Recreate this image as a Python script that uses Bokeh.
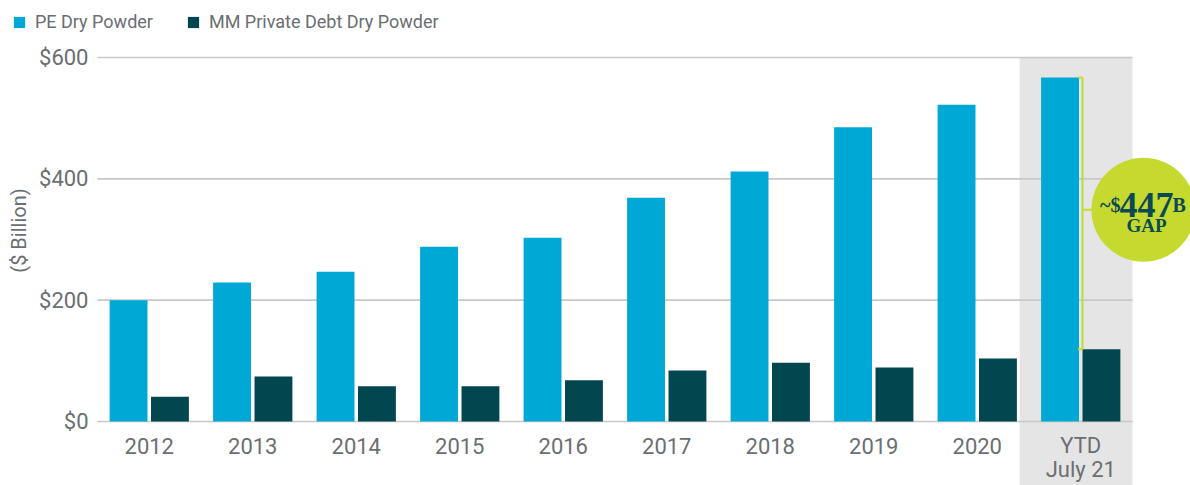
import math
import numpy as np
from bokeh.plotting import figure
from bokeh.models import (Range1d, FixedTicker, NumeralTickFormatter, Label, ColumnDataSource,
                          Legend, LegendItem)
from bokeh.core.properties import value
from bokeh.embed import file_html
from bokeh.resources import INLINE

# ---- data ----
categories = ["2012", "2013", "2014", "2015", "2016", "2017", "2018", "2019", "2020", "YTD\nJuly 21"]
pe_dry_powder = [200, 229, 247, 288, 303, 369, 412, 485, 522, 567]
mm_private_debt = [41, 74, 58, 58, 68, 84, 97, 89, 104, 119]
series_names = ["PE Dry Powder", "MM Private Debt Dry Powder"]
y_ticks = [0, 200, 400, 600]
gap_prefix = "~$"
gap_value = "447"
gap_suffix = "B"
gap_word = "GAP"
y_axis_title = "($ Billion)"

# ---- styles ----
PE_COLOR = "#00a8d6"
MM_COLOR = "#02474f"
LIME = "#c6d92e"
DARK_TEXT = "#0c4a53"
GRAY_TEXT = "#6b6e72"
GRID = "#c8c8c8"
SHADE = "#e5e5e5"
SANS = "Roboto"
SERIF = "Liberation Serif"

W, H = 1190, 485
PX_X = 103.5            # px per category
PX_Y = 364 / 600        # px per $B
LEFT, ZERO_Y, TOP_Y = 97, 421, 57

n = len(categories)
xc = np.arange(n) + 0.5
src = ColumnDataSource(dict(
    x_pe=xc - 0.2, x_mm=xc + 0.2,
    pe=pe_dry_powder, mm=mm_private_debt,
))

x_range = Range1d(-LEFT / PX_X, (W - LEFT) / PX_X)
y_range = Range1d(-(H - ZERO_Y) / PX_Y, max(y_ticks) + TOP_Y / PX_Y)

p = figure(width=W, height=H, output_backend="svg", toolbar_location=None,
           x_axis_location=None, y_axis_location="left",
           min_border_left=0, min_border_right=0, min_border_top=0, min_border_bottom=0,
           x_range=x_range, y_range=y_range)
p.outline_line_color = None
p.xgrid.grid_line_color = None
p.ygrid.grid_line_color = None

ax = p.yaxis[0]
ax.fixed_location = 0
ax.ticker = FixedTicker(ticks=y_ticks)
ax.formatter = NumeralTickFormatter(format="$0")
ax.axis_line_color = None
ax.major_tick_line_color = None
ax.minor_tick_line_color = None
ax.major_tick_out = 0
ax.major_tick_in = 0
ax.major_label_standoff = 9
ax.major_label_text_font = SANS
ax.major_label_text_font_size = "22px"
ax.major_label_text_color = GRAY_TEXT

# y axis title
p.add_layout(Label(x=0, y=(ZERO_Y - 230) / PX_Y, x_offset=-79, text=y_axis_title,
                   angle=math.pi / 2, text_align="center", text_baseline="middle",
                   text_font=SANS, text_font_size="20px", text_color=GRAY_TEXT))

# shaded YTD column
p.quad(left=[n - 1.09], right=[n], bottom=[y_range.start - 1], top=[max(y_ticks)],
       fill_color=SHADE, line_color=None)

# grid lines
p.segment(x0=[0] * len(y_ticks), x1=[n] * len(y_ticks), y0=y_ticks, y1=y_ticks,
          line_color=GRID, line_width=1.6)

# bars
r_pe = p.vbar(x="x_pe", top="pe", bottom=0, width=0.366, source=src,
              fill_color=PE_COLOR, line_color=None)
r_mm = p.vbar(x="x_mm", top="mm", bottom=0, width=0.366, source=src,
              fill_color=MM_COLOR, line_color=None)

# category labels
first = [c.split("\n")[0] for c in categories]
second = [c.split("\n")[1] if "\n" in c else "" for c in categories]
for lines, off in ((first, 24), (second, 48)):
    p.text(x=list(xc), y=[0] * n, text=lines, y_offset=off,
           text_align="center", text_baseline="alphabetic",
           text_font=value(SANS), text_font_size="22px", text_color=GRAY_TEXT)

# gap bracket + badge
pe_last, mm_last = pe_dry_powder[-1], mm_private_debt[-1]
bx = n - 1 + 0.517
p.segment(x0=[bx, bx - 0.045, bx - 0.045], x1=[bx, bx, bx],
          y0=[mm_last, pe_last, mm_last], y1=[pe_last, pe_last, mm_last],
          line_color=LIME, line_width=2)
cy = (pe_last + mm_last) / 2 + 6
cx = n + 0.106
p.segment(x0=[bx], x1=[cx], y0=[cy], y1=[cy], line_color=LIME, line_width=2)
p.scatter(x=[cx], y=[cy], size=104, marker="circle", fill_color=LIME, line_color=None)
p.text(x=[cx], y=[cy], text=[gap_value], x_offset=3, y_offset=-5,
       text_align="center", text_baseline="alphabetic", text_font=value(SERIF),
       text_font_style="bold", text_font_size="36px", text_color=DARK_TEXT)
p.text(x=[cx], y=[cy], text=[gap_prefix], x_offset=-23, y_offset=-5,
       text_align="right", text_baseline="alphabetic", text_font=value(SERIF),
       text_font_style="bold", text_font_size="20px", text_color=DARK_TEXT)
p.text(x=[cx], y=[cy], text=[gap_suffix], x_offset=29, y_offset=-5,
       text_align="left", text_baseline="alphabetic", text_font=value(SERIF),
       text_font_style="bold", text_font_size="20px", text_color=DARK_TEXT)
p.text(x=[cx], y=[cy], text=[gap_word], x_offset=3, y_offset=16,
       text_align="center", text_baseline="alphabetic", text_font=value(SERIF),
       text_font_style="bold", text_font_size="19px", text_color=DARK_TEXT)

# legend (inside the full-canvas frame, top-left)
lg = Legend(items=[LegendItem(label=series_names[0], renderers=[r_pe]),
                   LegendItem(label=series_names[1], renderers=[r_mm])],
            location=(12, 453), orientation="horizontal",
            label_text_font=SANS, label_text_font_size="18px", label_text_color=GRAY_TEXT,
            glyph_width=14, glyph_height=14, label_height=14, label_standoff=9,
            spacing=33, padding=0, margin=0, border_line_color=None,
            background_fill_alpha=0)
p.add_layout(lg, "center")

open("out.html", "w").write(file_html(p, INLINE))
